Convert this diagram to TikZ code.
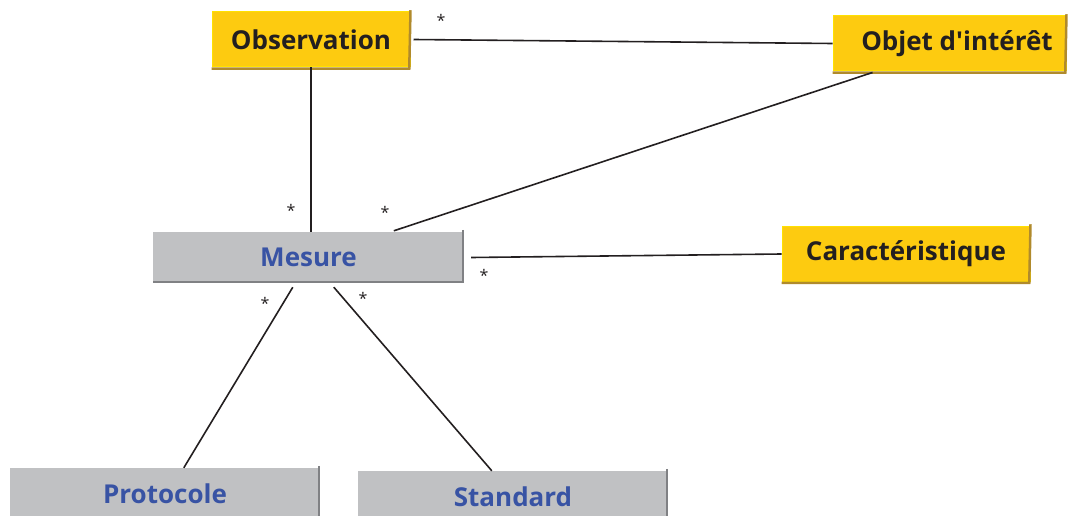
\documentclass[tikz,border=0pt]{standalone}
\usepackage{fontspec}
\setmainfont{Open Sans}[Ligatures=TeXOff]
\usetikzlibrary{calc}
\definecolor{ybox}{HTML}{FDCB10}
\definecolor{ylite}{HTML}{FFE100}
\definecolor{ydark}{HTML}{B08A2C}
\definecolor{gbox}{HTML}{C0C1C3}
\definecolor{gdark}{HTML}{808184}
\definecolor{ink}{HTML}{231F20}
\definecolor{blu}{HTML}{3853A4}
\tikzset{
  ybx/.style={fill=ybox, draw=ylite, line width=1pt, inner sep=0pt, font=\fontsize{26}{28}\selectfont\bfseries, text=ink},
  gbx/.style={fill=gbox, draw=none, inner sep=0pt, font=\fontsize{26}{28}\selectfont\bfseries, text=blu},
  conn/.style={draw=ink, line width=1.6pt},
  star/.style={font=\fontsize{16}{16}\selectfont, text=ink, inner sep=0pt}
}
\begin{document}
\begin{tikzpicture}[x=1pt,y=-1pt]
\useasboundingbox (0,0) rectangle (1068,516);
\node[ybx, minimum width=198pt, minimum height=55pt] (obs) at (311,39.5) {Observation};
\node[ybx, minimum width=233pt, minimum height=55pt] (obj) at (949.5,43.5) {\hspace*{15pt}Objet d'intérêt};
\node[ybx, minimum width=248pt, minimum height=55pt] (car) at (906,253.5) {Caractéristique};
\node[gbx, minimum width=311pt, minimum height=51pt] (mes) at (308.5,257.5) {Mesure};
\node[gbx, minimum width=310pt, minimum height=52pt] (pro) at (165,494) {Protocole};
\node[gbx, minimum width=310pt, minimum height=52pt] (std) at (513,497) {Standard};
% shaded edges
\foreach \n in {obs,obj,car}{
  \draw[ydark, line width=2.5pt] ([yshift=1.25pt]\n.north east) -- ([yshift=-1.25pt, xshift=-1.25pt]\n.south east) -- ([yshift=-1.25pt]\n.south west);
}
\foreach \n in {mes,pro,std}{
  \draw[gdark, line width=2.5pt] ([yshift=2pt, xshift=-1.25pt]\n.north east) -- ([yshift=1.25pt, xshift=-1.25pt]\n.south east) -- ([yshift=1.25pt]\n.south west);
}
% connectors
\draw[conn] ([xshift=3pt]obs.east) -- (obj.west);
\draw[conn] (obs.south) -- ([xshift=2.5pt]mes.north);
\draw[conn] ([xshift=40pt, yshift=-1pt]obj.south west) -- ([xshift=241pt, yshift=1pt]mes.north west);
\draw[conn] ([xshift=7pt]mes.east) -- ([yshift=-0.5pt]car.west);
\draw[conn] ([xshift=140pt, yshift=-4pt]mes.south west) -- ([xshift=174pt]pro.north west);
\draw[conn] ([xshift=181pt, yshift=-4pt]mes.south west) -- ([xshift=134pt]std.north west);
% multiplicities
\node[star] (s1) at (441,20) {*};
\node[star] (s2) at (291,210) {*};
\node[star] (s3) at (385,212) {*};
\node[star] (s4) at (484,275) {*};
\node[star] (s5) at (265,303) {*};
\node[star] (s6) at (363,298) {*};
\end{tikzpicture}
\end{document}
